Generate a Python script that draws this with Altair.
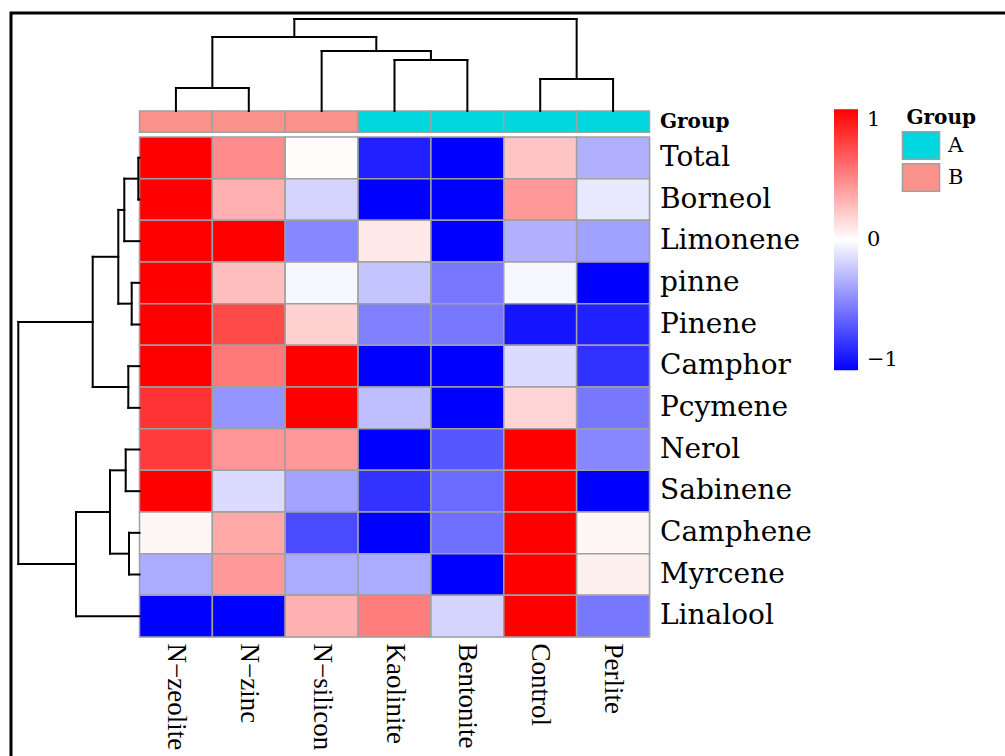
import altair as alt
import pandas as pd

# Compounds (rows) and treatments (columns) in clustered display order
compounds = ["Total", "Borneol", "Limonene", "pinne", "Pinene", "Camphor",
             "Pcymene", "Nerol", "Sabinene", "Camphene", "Myrcene", "Linalool"]
treatments = ["N−zeolite", "N−zinc", "N−silicon", "Kaolinite",
              "Bentonite", "Control", "Perlite"]
treatment_group = ["B", "B", "B", "A", "A", "A", "A"]
group_levels = ["A", "B"]
group_colors = ["#00D7DE", "#F9928A"]

# Row-scaled values for each treatment, compounds in the order above
n_zeolite = [1.0, 1.0, 1.0, 1.0, 1.0, 1.0, 0.80, 0.77, 1.0, 0.035, -0.33, -1.0]
n_zinc = [0.45, 0.31, 1.0, 0.25, 0.71, 0.53, -0.42, 0.41, -0.14, 0.34, 0.40, -1.0]
n_silicon = [0.01, -0.17, -0.47, -0.03, 0.18, 1.0, 1.0, 0.40, -0.36, -0.71, -0.33, 0.31]
kaolinite = [-0.87, -1.0, 0.09, -0.23, -0.50, -1.0, -0.25, -1.0, -0.80, -1.0, -0.33, 0.51]
bentonite = [-1.0, -1.0, -1.0, -0.53, -0.53, -1.0, -1.0, -0.66, -0.58, -0.56, -1.0, -0.17]
control = [0.23, 0.40, -0.31, -0.03, -0.92, -0.14, 0.17, 1.0, 1.0, 1.0, 1.0, 1.0]
perlite = [-0.31, -0.09, -0.37, -1.0, -0.87, -0.81, -0.53, -0.47, -1.0, 0.035, 0.06, -0.53]
columns = [n_zeolite, n_zinc, n_silicon, kaolinite, bentonite, control, perlite]

# hclust-style merge tables: negative = leaf (1-based display order), positive = earlier merge
col_merge = [(-1, -2), (-6, -7), (-4, -5), (-3, 3), (1, 4), (5, 2)]
col_height = [2.3, 3.2, 5.1, 6.0, 7.4, 9.2]
row_merge = [(-1, -2), (-4, -5), (-10, -11), (-6, -7), (-8, -9), (1, -3),
             (6, 2), (5, 3), (7, 4), (8, -12), (9, 10)]
row_height = [0.12, 0.78, 1.05, 1.12, 1.38, 1.52, 2.12, 2.95, 4.68, 6.35, 12.12]


def dendrogram_segments(merge, height):
    """Elbow segments of a dendrogram: position p along the leaves, height h."""
    nodes = {}
    segs = []

    def node(k):
        if k < 0:
            return (-k - 1) + 0.5, 0.0
        return nodes[k]

    for i, (a, b) in enumerate(merge, start=1):
        pa, ha = node(a)
        pb, hb = node(b)
        hh = height[i - 1]
        segs.append(dict(p=pa, h=ha, p2=pa, h2=hh))
        segs.append(dict(p=pb, h=hb, p2=pb, h2=hh))
        segs.append(dict(p=pa, h=hh, p2=pb, h2=hh))
        nodes[i] = ((pa + pb) / 2, hh)
    return pd.DataFrame(segs)


heat_df = pd.DataFrame(
    [dict(treatment=t, compound=c, value=v)
     for t, col in zip(treatments, columns)
     for c, v in zip(compounds, col)]
)
group_df = pd.DataFrame(dict(treatment=treatments, group=treatment_group,
                             track=["Group"] * len(treatments)))
col_seg = dendrogram_segments(col_merge, col_height)
row_seg = dendrogram_segments(row_merge, row_height)

W, H = 510, 500
SERIF_WIDE = "DejaVu Serif"
SERIF = "Liberation Serif"
CELL_BORDER = "#A0A0A0"

band = dict(paddingInner=0, paddingOuter=0)

frame = alt.Chart(pd.DataFrame({"k": [0]})).mark_rect(
    fill="transparent", stroke="black", strokeWidth=3
).encode(
    x=alt.value(-128.5), y=alt.value(-124), x2=alt.value(1000), y2=alt.value(800)
)

heat = alt.Chart(heat_df).mark_rect(stroke=CELL_BORDER, strokeWidth=1.5).encode(
    x=alt.X("treatment:N", sort=treatments,
            scale=alt.Scale(domain=treatments, **band),
            axis=alt.Axis(orient="bottom", title=None, labelAngle=90, labelAlign="left",
                          labelBaseline="middle", ticks=False, domain=False,
                          labelPadding=6, labelFont=SERIF, labelFontSize=27,
                          labelColor="black", labelLimit=400)),
    y=alt.Y("compound:N", sort=compounds,
            scale=alt.Scale(domain=compounds, **band),
            axis=alt.Axis(orient="right", title=None, ticks=False, domain=False,
                          labelPadding=10, labelFont=SERIF_WIDE, labelFontSize=28,
                          labelColor="black", labelLimit=400)),
    color=alt.Color("value:Q",
                    scale=alt.Scale(domain=[-1, 0, 1],
                                    range=["#0000FF", "#FFFFFF", "#FF0000"],
                                    interpolate="rgb"),
                    legend=alt.Legend(orient="none", legendX=694.5, legendY=-27.7,
                                      direction="vertical", title=None,
                                      gradientLength=261, gradientThickness=24,
                                      gradientStrokeWidth=0, values=[-1, 0, 1],
                                      format="d",
                                      labelFont=SERIF_WIDE, labelFontSize=21,
                                      labelColor="black", labelOffset=9,
                                      labelBaseline="middle", padding=0)),
)

group_bar = alt.Chart(group_df).mark_rect(stroke=CELL_BORDER, strokeWidth=1.5).encode(
    x=alt.X("treatment:N", scale=alt.Scale(domain=treatments, **band), axis=None),
    y=alt.Y("track:N", scale=alt.Scale(domain=["Group"], range=[-26, -4.7], **band),
            axis=alt.Axis(orient="right", title=None, ticks=False, domain=False,
                          labelPadding=10, labelFont=SERIF_WIDE, labelFontSize=20,
                          labelFontWeight="bold", labelColor="black")),
    color=alt.Color("group:N",
                    scale=alt.Scale(domain=group_levels, range=group_colors),
                    legend=alt.Legend(orient="none", legendX=767, legendY=-29,
                                      title="Group", titleFont=SERIF_WIDE,
                                      titleFontSize=20, titleFontWeight="bold",
                                      titleColor="black", titlePadding=3,
                                      symbolType="M-1.35,-1H1.35V1H-1.35Z",
                                      symbolSize=756, symbolStrokeColor=CELL_BORDER,
                                      symbolStrokeWidth=1.5, symbolOpacity=1,
                                      labelFont=SERIF_WIDE, labelFontSize=21,
                                      labelColor="black", labelOffset=12.5,
                                      rowPadding=-7.5, padding=0)),
)

col_dend = alt.Chart(col_seg).mark_rule(color="black", strokeWidth=2, strokeCap="square").encode(
    x=alt.X("p:Q", scale=alt.Scale(domain=[0, len(treatments)], nice=False, zero=False), axis=None),
    x2="p2:Q",
    y=alt.Y("h:Q", scale=alt.Scale(domain=[0, max(col_height)], range=[-26, -118], nice=False),
            axis=None),
    y2="h2:Q",
)

row_dend = alt.Chart(row_seg).mark_rule(color="black", strokeWidth=2, strokeCap="square").encode(
    y=alt.Y("p:Q", scale=alt.Scale(domain=[0, len(compounds)], nice=False, zero=False, reverse=True),
            axis=None),
    y2="p2:Q",
    x=alt.X("h:Q", scale=alt.Scale(domain=[0, max(row_height)], range=[0, -121.2], nice=False),
            axis=None),
    x2="h2:Q",
)

chart = alt.layer(frame, heat, group_bar, col_dend, row_dend).resolve_scale(
    x="independent", y="independent", color="independent"
).properties(
    width=W, height=H,
    padding={"left": 139.5, "top": 137, "right": 355.5, "bottom": 119},
    autosize=alt.AutoSizeParams(type="none"),
).configure_view(stroke=None).configure(background="white")

chart.save("out.html", embed_options={"renderer": "svg", "actions": False})
